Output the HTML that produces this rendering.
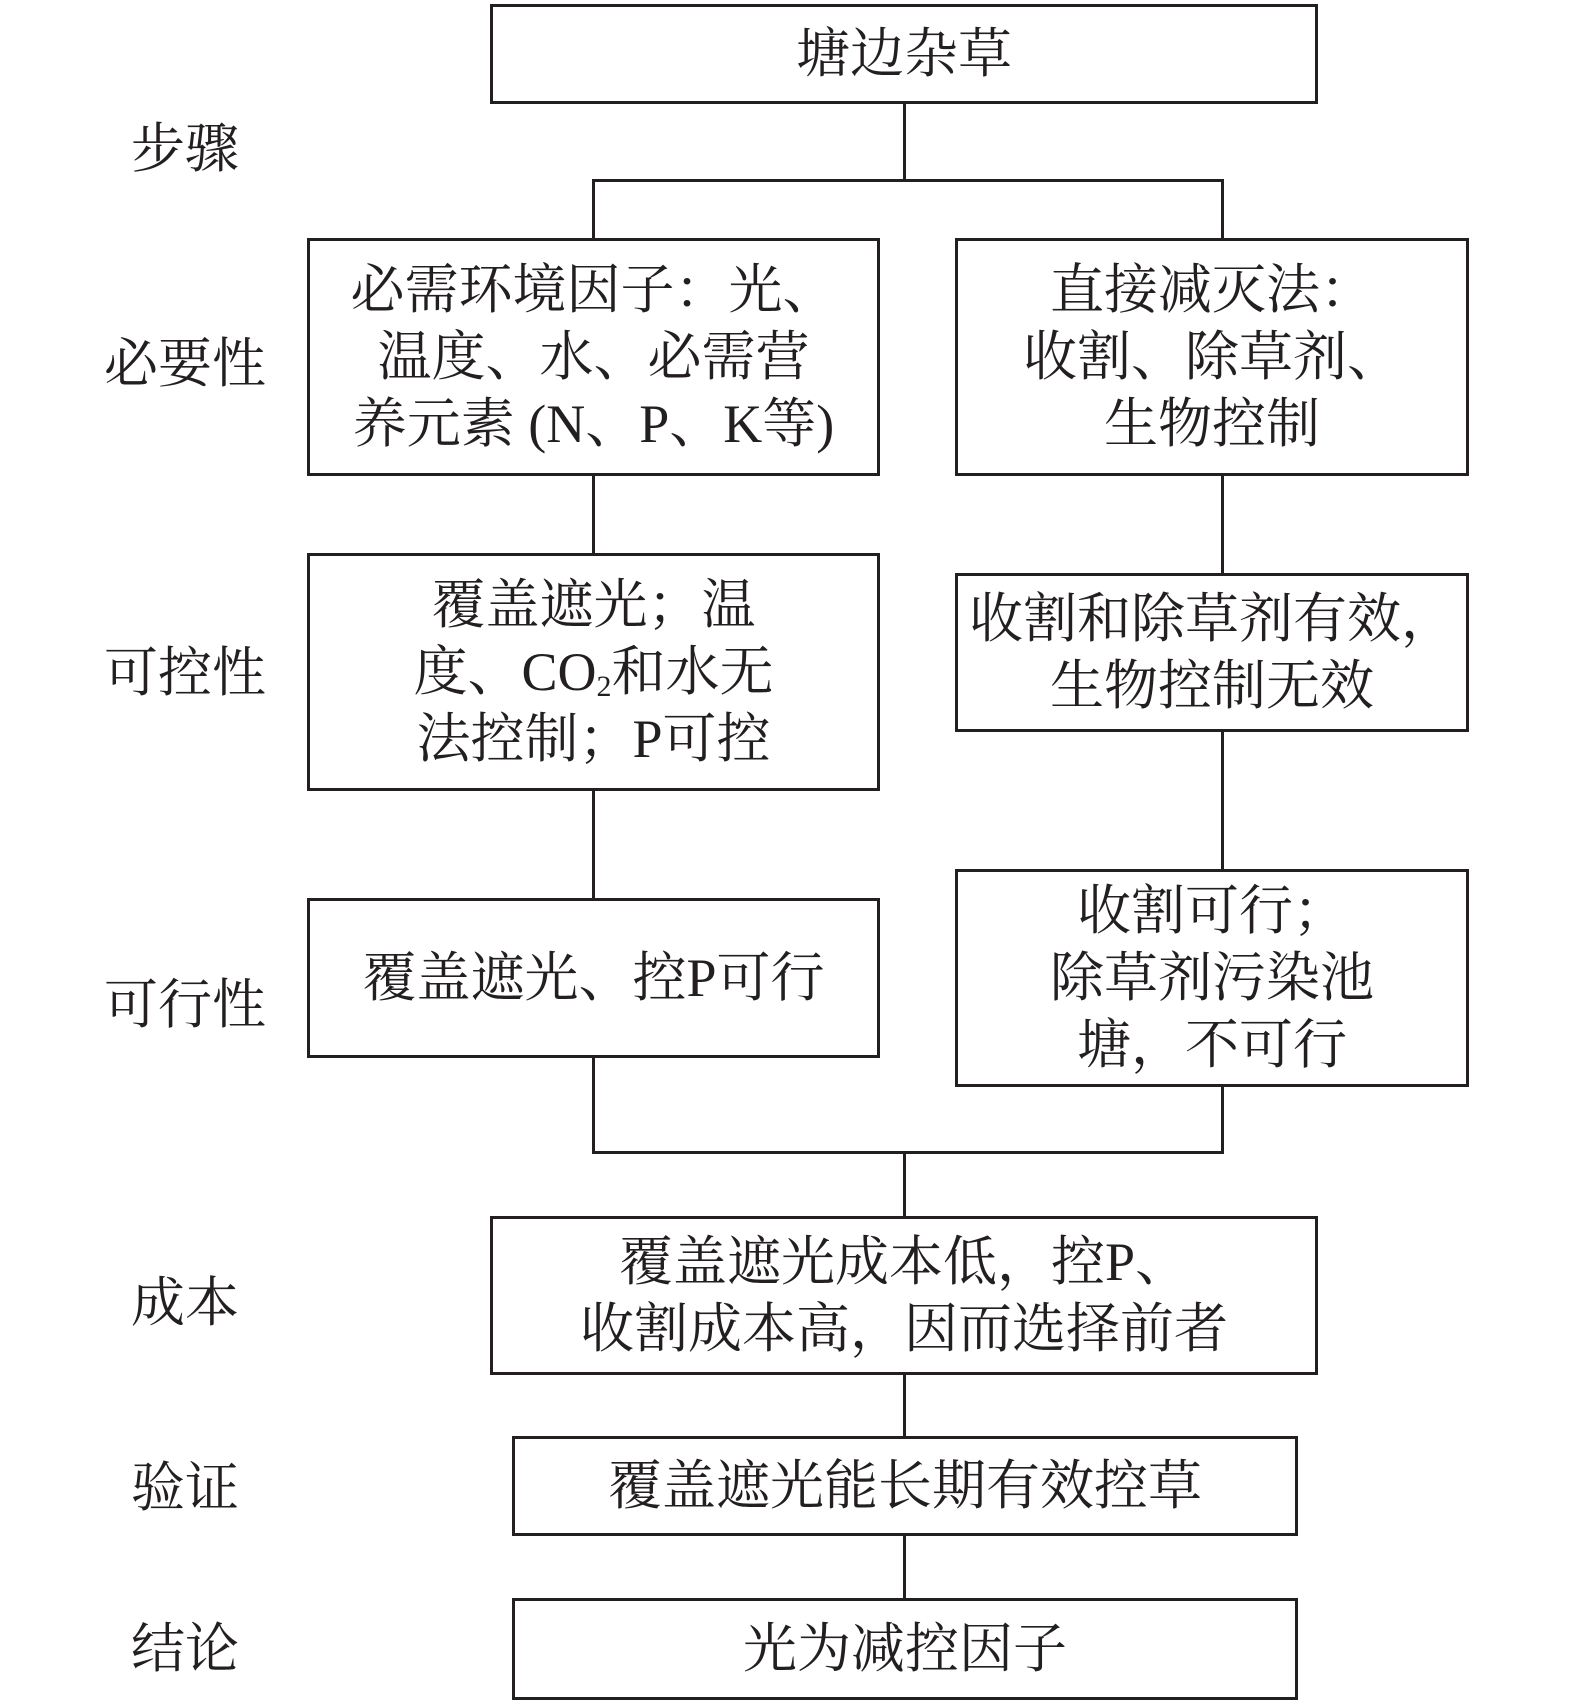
<!DOCTYPE html>
<html><head><meta charset="utf-8"><style>
html,body{margin:0;padding:0;background:#fff;}
body{width:1575px;height:1703px;position:relative;overflow:hidden;font-family:"Liberation Serif","Noto Serif CJK SC",serif;color:#231f20;}
.b{position:absolute;border:3px solid #231f20;box-sizing:border-box;display:flex;align-items:center;justify-content:center;text-align:center;font-size:54px;line-height:67px;}
.b>span{display:block;}
.l{position:absolute;background:#231f20;}
.t{position:absolute;font-size:54px;line-height:60px;width:200px;text-align:center;}
sub{font-size:30px;vertical-align:-6px;line-height:0;}
</style></head><body>
<div class="l" style="left:903px;top:103px;width:3px;height:78px"></div>
<div class="l" style="left:592px;top:179px;width:632px;height:3px"></div>
<div class="l" style="left:592px;top:179px;width:3px;height:62px"></div>
<div class="l" style="left:1221px;top:179px;width:3px;height:62px"></div>
<div class="l" style="left:592px;top:475px;width:3px;height:80px"></div>
<div class="l" style="left:592px;top:790px;width:3px;height:110px"></div>
<div class="l" style="left:592px;top:1057px;width:3px;height:96px"></div>
<div class="l" style="left:1221px;top:475px;width:3px;height:100px"></div>
<div class="l" style="left:1221px;top:731px;width:3px;height:140px"></div>
<div class="l" style="left:1221px;top:1086px;width:3px;height:67px"></div>
<div class="l" style="left:592px;top:1151px;width:632px;height:3px"></div>
<div class="l" style="left:903px;top:1151px;width:3px;height:67px"></div>
<div class="l" style="left:903px;top:1374px;width:3px;height:64px"></div>
<div class="l" style="left:903px;top:1535px;width:3px;height:65px"></div>
<div class="b" style="left:490px;top:4px;width:828px;height:100px"><span>塘边杂草</span></div>
<div class="b" style="left:307px;top:238px;width:573px;height:238px"><span>必需环境因子：光、<br>温度、水、必需营<br>养元素 (N、P、K等)</span></div>
<div class="b" style="left:955px;top:238px;width:514px;height:238px"><span>直接减灭法：<br>收割、除草剂、<br>生物控制</span></div>
<div class="b" style="left:307px;top:553px;width:573px;height:238px"><span>覆盖遮光；温<br>度、CO<sub>2</sub>和水无<br>法控制；P可控</span></div>
<div class="b" style="left:955px;top:573px;width:514px;height:159px"><span>收割和除草剂有效，<br>生物控制无效</span></div>
<div class="b" style="left:307px;top:898px;width:573px;height:160px"><span>覆盖遮光、控P可行</span></div>
<div class="b" style="left:955px;top:869px;width:514px;height:218px"><span>收割可行；<br>除草剂污染池<br>塘，不可行</span></div>
<div class="b" style="left:490px;top:1216px;width:828px;height:159px"><span>覆盖遮光成本低，控P、<br>收割成本高，因而选择前者</span></div>
<div class="b" style="left:512px;top:1436px;width:786px;height:100px"><span>覆盖遮光能长期有效控草</span></div>
<div class="b" style="left:512px;top:1598px;width:786px;height:102px"><span>光为减控因子</span></div>
<div class="t" style="left:85px;top:119px">步骤</div>
<div class="t" style="left:85px;top:334px">必要性</div>
<div class="t" style="left:85px;top:643px">可控性</div>
<div class="t" style="left:85px;top:975px">可行性</div>
<div class="t" style="left:85px;top:1273px">成本</div>
<div class="t" style="left:85px;top:1458px">验证</div>
<div class="t" style="left:85px;top:1619px">结论</div>
</body></html>
